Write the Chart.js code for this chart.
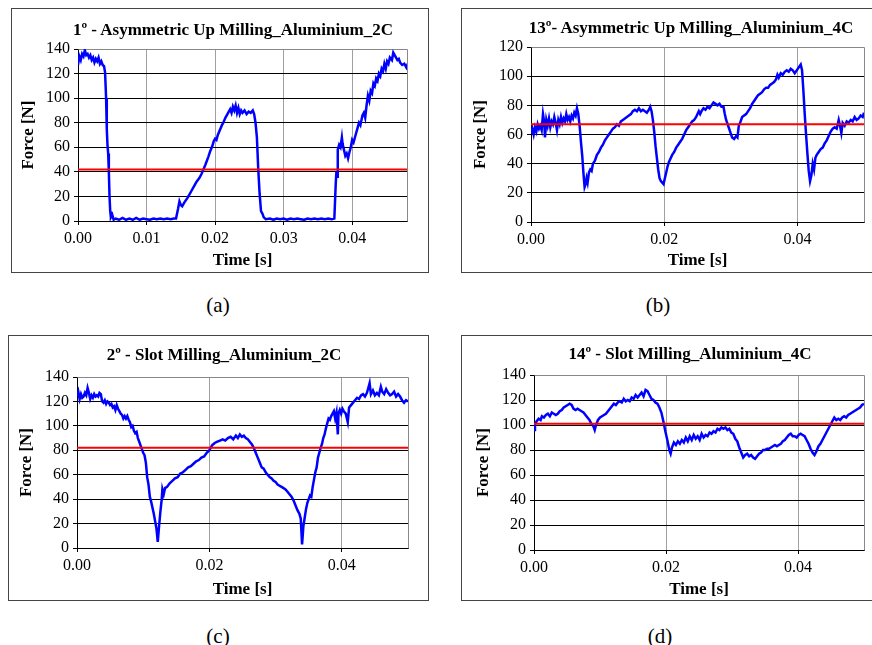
<!DOCTYPE html>
<html>
<head>
<meta charset="utf-8">
<script src="https://cdn.jsdelivr.net/npm/chart.js@4/dist/chart.umd.min.js"></script>
<style>
  body { margin: 0; width: 872px; height: 645px; overflow: hidden; background: #fff;
         font-family: "Liberation Serif", "Times New Roman", serif; }
  .box { position: absolute; border: 1px solid #444; box-sizing: border-box; }
  .ttl { position: absolute; font-weight: bold; font-size: 17px; white-space: nowrap;
         transform: translate(-50%, -50%); }
  .cap { position: absolute; font-size: 21px; transform: translate(-50%, -50%); }
  canvas { position: absolute; }
</style>
</head>
<body>
<script>
// chart text
const titles = [
  "1º - Asymmetric Up Milling_Aluminium_2C",
  "13º- Asymmetric Up Milling_Aluminium_4C",
  "2º - Slot Milling_Aluminium_2C",
  "14º - Slot Milling_Aluminium_4C",
];
const captions = ["(a)", "(b)", "(c)", "(d)"];

// axes
const xTicks = [
  [0, 0.01, 0.02, 0.03, 0.04],
  [0, 0.02, 0.04],
  [0, 0.02, 0.04],
  [0, 0.02, 0.04],
];
const xMax = [0.048, 0.05, 0.05, 0.05];
const yMax = [140, 120, 140, 140];

// mean force (red line), N
const meanForce = [42, 67, 82, 101];

// force traces: [time in ms, force in N]
const forceA = [
  [0,127],[0.2,134],[0.4,131],[0.6,136],[0.8,134],[1.0,139],[1.2,135],[1.4,136],[1.6,133],[1.8,135],
  [2.0,131],[2.2,133],[2.4,129],[2.6,132],[2.8,130],[3.0,133],[3.2,128],[3.4,130],[3.6,127],[3.8,126],
  [3.95,121],[4.1,100],[4.2,75],[4.3,62],[4.4,55],[4.5,40],[4.6,20],[4.7,8],[4.8,3],[5.0,5],
  [5.2,1],[5.5,2],[6.0,1],[6.5,2.5],[7.0,1],[7.5,2],[8.0,1],[8.5,2.5],[9.0,1],[9.5,2],
  [10.0,1.5],[10.5,1],[11.0,2],[11.5,1.5],[12.0,2],[12.5,1.5],[13.0,2],[13.5,1.5],[14.0,2],[14.3,2],
  [14.6,10],[14.8,16],[15.0,13],[15.2,12],[15.5,15],[16.0,19],[16.5,24],[17.0,29],[17.3,32],[17.7,35],
  [18.0,38],[18.3,42],[18.6,46],[19.0,52],[19.3,57],[19.6,61],[19.8,65],[20.0,67],[20.2,66],[20.4,70],
  [20.7,74],[21.0,78],[21.2,80],[21.5,84],[21.8,87],[22.0,89],[22.2,91],[22.4,88],[22.6,93],[22.8,90],
  [23.0,94],[23.2,88],[23.4,92],[23.6,87],[23.8,90],[24.0,88],[24.3,90],[24.6,87],[24.9,89],[25.2,88],
  [25.5,90],[25.7,87],[25.9,80],[26.1,68],[26.3,42],[26.5,22],[26.7,8],[26.9,6],[27.1,3],[27.4,1.5],
  [28,2],[28.5,1],[29,2],[29.5,1.5],[30,2],[30.5,1],[31,2],[31.5,1.5],[32,2],[32.5,1.5],
  [33,1],[33.5,2],[34,1.5],[34.5,2],[35,1.5],[35.5,2],[36,1.5],[36.5,2],[37,1.5],[37.4,2],
  [37.6,30],[37.7,40],[37.8,36],[37.9,58],[38.1,62],[38.3,60],[38.5,68],[38.6,63],[38.8,58],[39.0,53],
  [39.2,55],[39.4,51],[39.6,56],[39.8,60],[40.0,66],[40.2,64],[40.5,70],[40.8,76],[41.0,80],[41.2,78],
  [41.5,86],[41.7,88],[41.9,84],[42.1,94],[42.3,102],[42.5,98],[42.7,106],[42.9,104],[43.1,112],[43.3,110],
  [43.5,116],[43.7,114],[43.9,120],[44.1,118],[44.3,124],[44.5,122],[44.7,128],[44.9,124],[45.1,130],[45.3,128],
  [45.5,133],[45.8,131],[46.0,137],[46.2,135],[46.4,133],[46.6,131],[46.8,132],[47.0,129],[47.3,127],[47.6,128],
  [47.9,125],[48.1,128],
];

const forceB = [
  [0,61],[0.2,64],[0.4,60],[0.6,65],[0.8,62],[1.0,67],[1.2,64],[1.4,66],[1.6,63],[1.8,74],
  [2.0,68],[2.1,58],[2.3,70],[2.5,66],[2.7,71],[2.9,65],[3.1,69],[3.3,67],[3.5,72],[3.7,68],
  [3.9,63],[4.1,70],[4.3,67],[4.5,72],[4.7,68],[4.9,71],[5.1,69],[5.3,74],[5.5,70],[5.7,72],
  [5.9,69],[6.1,73],[6.3,71],[6.5,75],[6.7,73],[6.9,78],[7.1,74],[7.3,66],[7.5,55],[7.7,45],
  [7.9,32],[8.05,24],[8.2,26],[8.35,30],[8.5,27],[8.7,34],[8.9,36],[9.1,35],[9.3,40],[9.6,42],
  [9.9,46],[10.2,48],[10.5,51],[10.8,53],[11.1,56],[11.4,58],[11.7,60],[12.0,62],[12.3,64],[12.6,65],
  [12.9,67],[13.2,66],[13.5,69],[13.8,70],[14.1,71],[14.4,72],[14.7,73],[15.0,74],[15.3,76],[15.6,77],
  [15.9,76],[16.2,78],[16.5,76],[16.8,77],[17.1,76],[17.4,75],[17.7,77],[17.9,79],[18.1,76],[18.3,70],
  [18.5,62],[18.7,52],[18.9,44],[19.1,36],[19.3,30],[19.5,28],[19.7,27],[19.9,26],[20.1,30],[20.3,34],
  [20.5,38],[20.7,41],[20.9,43],[21.2,46],[21.5,48],[21.8,51],[22.1,53],[22.4,55],[22.7,57],[23.0,60],
  [23.3,63],[23.6,65],[23.9,67],[24.2,69],[24.5,70],[24.8,72],[25.0,74],[25.2,76],[25.4,74],[25.6,76],
  [25.9,78],[26.2,77],[26.5,79],[26.8,78],[27.1,80],[27.4,82],[27.7,81],[28.0,80],[28.3,81],[28.6,79],
  [28.9,79],[29.1,74],[29.3,70],[29.6,66],[29.9,62],[30.2,58],[30.5,57],[30.8,59],[31.0,58],[31.2,66],
  [31.4,68],[31.7,72],[32.0,73],[32.3,74],[32.6,76],[32.9,78],[33.2,81],[33.5,83],[33.8,85],[34.1,87],
  [34.4,88],[34.7,89],[35.0,91],[35.3,92],[35.6,92],[35.9,94],[36.2,95],[36.5,96],[36.8,98],[37.0,101],
  [37.2,99],[37.5,102],[37.8,101],[38.1,103],[38.4,104],[38.7,103],[39.0,105],[39.3,104],[39.6,102],[39.9,104],
  [40.2,106],[40.5,108],[40.7,104],[40.9,90],[41.1,74],[41.3,60],[41.5,47],[41.7,35],[41.9,28],[42.1,32],
  [42.3,40],[42.5,36],[42.7,44],[42.9,46],[43.2,48],[43.5,50],[43.8,51],[44.1,54],[44.4,56],[44.7,59],
  [45.0,62],[45.3,64],[45.6,65],[45.9,64],[46.2,70],[46.4,66],[46.6,61],[46.8,68],[47.1,66],[47.4,69],
  [47.7,68],[48.0,70],[48.3,69],[48.6,72],[48.9,70],[49.2,71],[49.5,73],[49.8,72],[50.0,75],
];

const forceC = [
  [0,124],[0.2,128],[0.4,122],[0.6,126],[0.8,123],[1.0,124],[1.2,127],[1.4,125],[1.6,131],[1.8,127],
  [2.0,122],[2.2,125],[2.4,123],[2.6,126],[2.8,124],[3.0,125],[3.2,124],[3.4,127],[3.6,126],[3.8,120],
  [4.0,119],[4.2,121],[4.4,118],[4.6,120],[4.8,119],[5.0,117],[5.2,118],[5.4,115],[5.6,116],[5.8,113],
  [6.0,117],[6.2,114],[6.4,112],[6.6,110],[6.8,109],[7.0,106],[7.2,108],[7.4,106],[7.6,108],[7.8,105],
  [8.0,103],[8.2,99],[8.4,100],[8.6,96],[8.8,94],[9.0,95],[9.2,90],[9.4,87],[9.6,84],[9.8,81],
  [10.0,78],[10.2,76],[10.4,70],[10.6,58],[10.8,52],[11.0,42],[11.2,38],[11.4,33],[11.6,28],[11.8,22],
  [12.0,16],[12.2,5],[12.4,18],[12.6,30],[12.8,40],[12.9,48],[13.1,44],[13.3,49],[13.6,50],[14.0,53],
  [14.4,55],[14.8,57],[15.2,58],[15.6,61],[16.0,62],[16.4,64],[16.8,66],[17.2,67],[17.6,69],[18.0,71],
  [18.4,72],[18.8,74],[19.2,75],[19.6,78],[20.0,80],[20.4,84],[20.8,86],[21.2,87],[21.6,88],[22.0,89],
  [22.4,88],[22.8,90],[23.2,91],[23.6,89],[24.0,92],[24.3,90],[24.6,93],[24.9,91],[25.2,92],[25.5,90],
  [25.8,89],[26.1,87],[26.4,85],[26.7,82],[27.0,78],[27.3,74],[27.6,70],[27.9,66],[28.2,65],[28.5,62],
  [28.8,60],[29.1,58],[29.4,57],[29.7,55],[30.0,54],[30.3,52],[30.6,51],[30.9,50],[31.2,49],[31.5,48],
  [31.8,46],[32.1,44],[32.4,42],[32.7,39],[33.0,35],[33.3,31],[33.6,28],[33.8,24],[34.0,3],[34.2,18],
  [34.4,25],[34.6,32],[34.8,37],[35.0,40],[35.2,43],[35.4,42],[35.6,50],[35.8,56],[36.0,62],[36.2,66],
  [36.4,74],[36.6,78],[36.8,82],[37.0,85],[37.2,90],[37.4,93],[37.6,98],[37.8,102],[38.0,106],[38.2,105],
  [38.4,108],[38.6,110],[38.8,112],[39.0,106],[39.2,111],[39.4,93],[39.5,110],[39.7,113],[39.9,110],[40.1,114],
  [40.3,112],[40.6,110],[40.9,103],[41.1,115],[41.4,117],[41.7,119],[42.0,121],[42.3,123],[42.6,122],[42.9,125],
  [43.2,126],[43.5,124],[43.8,127],[44.0,131],[44.2,135],[44.4,126],[44.7,129],[45.0,125],[45.3,127],[45.6,125],
  [45.9,132],[46.1,128],[46.4,126],[46.7,130],[47.0,127],[47.3,125],[47.6,126],[47.9,128],[48.2,124],[48.5,126],
  [48.8,124],[49.1,121],[49.4,119],[49.7,121],[50.0,120],
];

const forceD = [
  [0,96],[0.15,101],[0.4,103],[0.7,105],[1.0,104],[1.2,107],[1.5,106],[1.8,108],[2.1,109],[2.4,107],
  [2.7,110],[3.0,109],[3.3,108],[3.6,109],[3.9,111],[4.2,112],[4.5,114],[4.8,115],[5.1,116],[5.4,117],
  [5.7,116],[6.0,113],[6.3,112],[6.6,113],[6.9,112],[7.2,111],[7.5,110],[7.8,108],[8.1,106],[8.4,104],
  [8.7,101],[9.0,99],[9.2,96],[9.4,100],[9.7,104],[10.0,106],[10.3,107],[10.6,108],[10.9,109],[11.2,111],
  [11.5,113],[11.8,115],[12.1,117],[12.4,116],[12.7,118],[13.0,119],[13.3,118],[13.6,121],[13.9,119],[14.2,120],
  [14.5,119],[14.8,122],[15.1,121],[15.4,124],[15.7,122],[16.0,124],[16.3,126],[16.6,123],[16.9,128],[17.2,127],
  [17.5,124],[17.8,121],[18.1,120],[18.4,118],[18.7,117],[19.0,114],[19.3,110],[19.6,103],[19.9,95],[20.2,88],
  [20.5,80],[20.7,77],[20.9,82],[21.2,86],[21.5,84],[21.8,87],[22.1,85],[22.4,88],[22.7,86],[23.0,90],
  [23.3,87],[23.6,91],[23.9,88],[24.2,92],[24.5,89],[24.8,91],[25.1,88],[25.4,93],[25.7,90],[26.0,92],
  [26.3,91],[26.6,94],[26.9,93],[27.2,95],[27.5,94],[27.8,97],[28.1,96],[28.4,98],[28.7,97],[29.0,98],
  [29.3,96],[29.6,97],[29.9,94],[30.2,93],[30.5,89],[30.8,87],[31.1,82],[31.4,78],[31.7,74],[32.0,76],
  [32.3,77],[32.6,75],[32.9,76],[33.2,74],[33.5,73],[33.8,75],[34.1,77],[34.4,78],[34.7,80],[35.0,80],
  [35.3,81],[35.6,81],[35.9,82],[36.2,83],[36.5,84],[36.8,83],[37.1,84],[37.4,85],[37.7,87],[38.0,88],
  [38.3,90],[38.6,92],[38.9,93],[39.2,91],[39.5,91],[39.8,90],[40.1,92],[40.4,93],[40.7,92],[41.0,91],
  [41.3,88],[41.6,85],[41.9,81],[42.2,78],[42.5,76],[42.8,79],[43.1,83],[43.4,85],[43.7,88],[44.0,91],
  [44.3,94],[44.6,97],[44.9,100],[45.2,103],[45.5,106],[45.8,104],[46.1,105],[46.4,104],[46.7,106],[47.0,107],
  [47.3,106],[47.6,108],[47.9,109],[48.2,110],[48.5,111],[48.8,112],[49.1,113],[49.4,114],[49.7,116],[50.0,117],
];

const traces = [forceA, forceB, forceC, forceD];

// page placement of each panel (px): frame box, plot area, text centres
const placement = [
  { box: [11, 8, 418, 265], area: [78, 49, 407, 221], title: [233, 30], yTitleX: 29, xTitleY: 261, cap: [218, 305] },
  { box: [461, 8, 420, 265], area: [531, 47, 864, 222], title: [691, 28], yTitleX: 481, xTitleY: 261, cap: [658, 305] },
  { box: [8, 335, 421, 266], area: [77, 377, 408, 548], title: [224, 355], yTitleX: 27, xTitleY: 590, cap: [218, 636] },
  { box: [461, 335, 420, 266], area: [534, 375, 864, 550], title: [690, 354], yTitleX: 484, xTitleY: 590, cap: [660, 636] },
];

Chart.defaults.font.family = '"Liberation Serif", "Times New Roman", serif';
Chart.defaults.color = "#000";

// gray frame on top and right of the plot area
const plotFrame = {
  id: "plotFrame",
  beforeDatasetsDraw(chart) {
    const { ctx, chartArea: a } = chart;
    ctx.save();
    ctx.strokeStyle = "#888";
    ctx.lineWidth = 1;
    ctx.beginPath();
    ctx.moveTo(Math.round(a.left) + 0.5, Math.round(a.top) + 0.5);
    ctx.lineTo(Math.round(a.right) + 0.5, Math.round(a.top) + 0.5);
    ctx.lineTo(Math.round(a.right) + 0.5, Math.round(a.bottom) + 0.5);
    ctx.stroke();
    ctx.restore();
  },
};

function addText(cls, text, pos) {
  const d = document.createElement("div");
  d.className = cls;
  d.textContent = text;
  d.style.left = pos[0] + "px";
  d.style.top = pos[1] + "px";
  document.body.appendChild(d);
}

placement.forEach((p, i) => {
  const [bx, by, bw, bh] = p.box;
  const frame = document.createElement("div");
  frame.className = "box";
  frame.style.left = bx + "px";
  frame.style.top = by + "px";
  frame.style.width = bw + "px";
  frame.style.height = bh + "px";
  document.body.appendChild(frame);

  const cx = bx + 1, cy = by + 1, cw = bw - 2, ch = bh - 2;
  const canvas = document.createElement("canvas");
  canvas.width = cw;
  canvas.height = ch;
  canvas.style.left = cx + "px";
  canvas.style.top = cy + "px";
  document.body.appendChild(canvas);

  const [al, at, ar, ab] = p.area;
  const yWidth = al - cx;
  const xHeight = cy + ch - ab;

  new Chart(canvas, {
    type: "line",
    data: {
      datasets: [
        {
          data: [{ x: 0, y: meanForce[i] }, { x: xMax[i], y: meanForce[i] }],
          borderColor: "#ff0000",
          borderWidth: 2,
          pointRadius: 0,
        },
        {
          data: traces[i].map(([t, f]) => ({ x: t / 1000, y: f })),
          borderColor: "#0000ff",
          borderWidth: 2.5,
          pointRadius: 0,
          tension: 0,
        },
      ],
    },
    options: {
      responsive: false,
      animation: false,
      layout: { padding: { left: 0, top: at - cy, right: cx + cw - ar, bottom: 0 } },
      plugins: { legend: { display: false }, tooltip: { enabled: false } },
      scales: {
        x: {
          type: "linear",
          min: 0,
          max: xMax[i],
          afterBuildTicks: (s) => { s.ticks = xTicks[i].map((v) => ({ value: v })); },
          afterFit: (s) => { s.height = xHeight; },
          ticks: {
            font: { size: 16 },
            padding: 4,
            maxRotation: 0,
            callback: (v) => Number(v).toFixed(2),
          },
          grid: {
            color: (c) => (c.tick && c.tick.value === 0 ? "rgba(0,0,0,0)" : "#a0a0a0"),
            tickColor: "#000",
            tickLength: 4,
          },
          border: { color: "#000", width: 1 },
          title: {
            display: true,
            text: "Time [s]",
            font: { size: 17, weight: "bold" },
            padding: { top: 0, bottom: cy + ch - p.xTitleY - 10.2 },
          },
        },
        y: {
          min: 0,
          max: yMax[i],
          afterFit: (s) => { s.width = yWidth; },
          ticks: { stepSize: 20, font: { size: 16 }, padding: 4 },
          grid: {
            color: (c) => (c.tick && c.tick.value === yMax[i] ? "rgba(0,0,0,0)" : "#000"),
            tickColor: "#000",
            tickLength: 4,
          },
          border: { color: "#000", width: 1 },
          title: {
            display: true,
            text: "Force [N]",
            font: { size: 17, weight: "bold" },
            padding: { top: p.yTitleX - cx - 10.2, bottom: 0 },
          },
        },
      },
    },
    plugins: [plotFrame],
  });

  addText("ttl", titles[i], p.title);
  addText("cap", captions[i], p.cap);
});
</script>
</body>
</html>
